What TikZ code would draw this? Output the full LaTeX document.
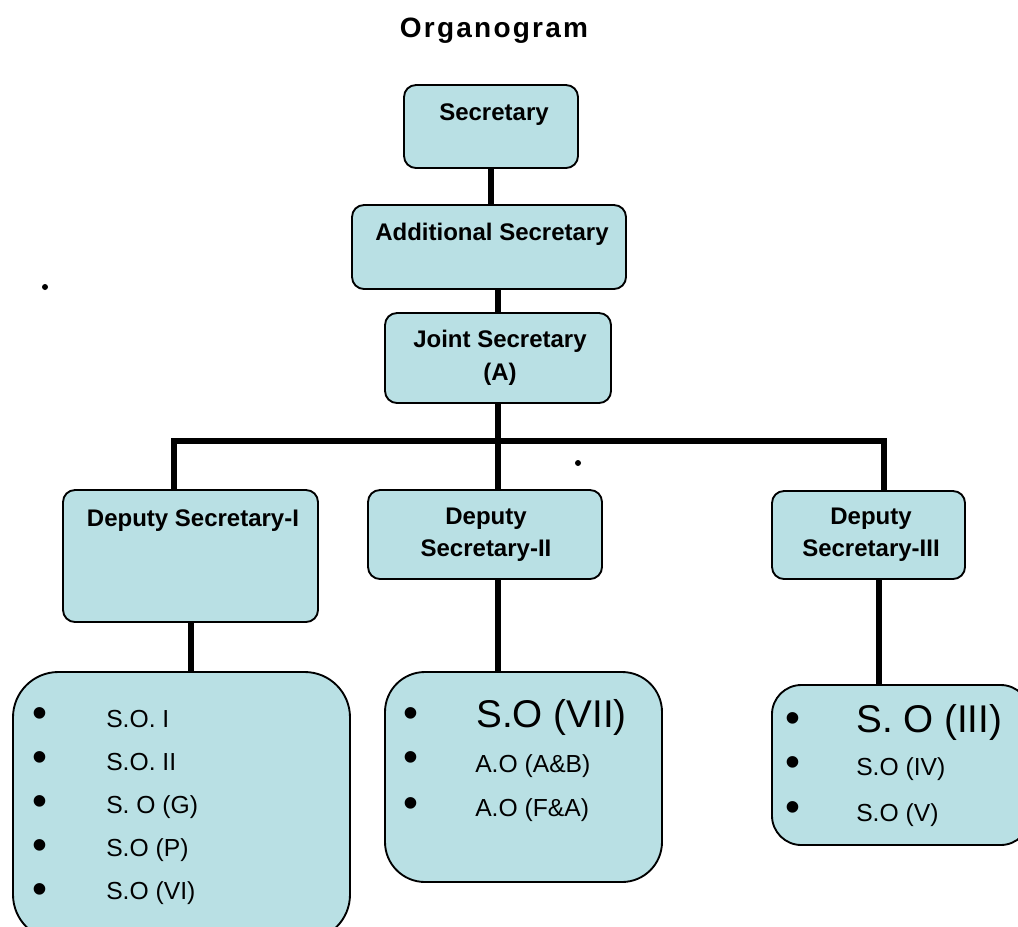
\documentclass[tikz,border=0pt]{standalone}
\usepackage{fontspec}
\setmainfont{Liberation Sans}
\newfontfamily\headfont[LetterSpace=8]{Liberation Sans}
\usetikzlibrary{backgrounds}
\definecolor{postfill}{RGB}{185,224,228}

\begin{document}
\begin{tikzpicture}[x=0.75pt,y=-0.75pt,
		post/.style={draw,line width=1.4pt,fill=postfill,rounded corners=9pt,inner sep=0pt},
		postname/.style={font=\bfseries\fontsize{18}{24.5}\selectfont,align=center,inner sep=0pt},
		item/.style={font=\fontsize{18.5}{20}\selectfont,anchor=base west,inner sep=0pt},
		bigitem/.style={font=\fontsize{29}{34}\selectfont,anchor=base west,inner sep=0pt},
		bul/.style={font=\fontsize{32}{34}\selectfont,inner sep=0pt},
		link/.style={line width=4.5pt}]
			\useasboundingbox (0,0) rectangle (1018,926);
			\node[font=\headfont\bfseries\fontsize{21}{24}\selectfont,anchor=base,inner sep=0pt] (head) at (494,37) {Organogram};
			% boxes
			\node[post,minimum width=130.5pt,minimum height=62.25pt] (sec) at (491,126.5) {};
			\node[post,minimum width=205.5pt,minimum height=63pt] (add) at (489,247) {};
			\node[post,minimum width=169.5pt,minimum height=67.5pt] (js) at (498,358) {};
			\node[post,minimum width=191.25pt,minimum height=99pt] (ds1) at (190.5,556) {};
			\node[post,minimum width=175.5pt,minimum height=66.75pt] (ds2) at (485,534.5) {};
			\node[post,minimum width=144.75pt,minimum height=66pt] (ds3) at (868.5,535) {};
			\node[post,rounded corners=34pt,minimum width=252.75pt,minimum height=201pt] (so1) at (181.5,806) {};
			\node[post,rounded corners=30pt,minimum width=207.75pt,minimum height=157.5pt] (so2) at (523.5,777) {};
			\node[post,rounded corners=22pt,minimum width=193.5pt,minimum height=120pt] (so3) at (901,765) {};
			% titles
			\node[postname,anchor=base] (secname) at (494,120) {Secretary};
			\node[postname,anchor=base] (addname) at (492,240) {Additional Secretary};
			\node[postname,font=\bfseries\fontsize{18}{24.75}\selectfont] (jsname) at (500,358) {Joint Secretary\\(A)};
			\node[postname,anchor=base] (ds1name) at (193,526) {Deputy Secretary-I};
			\node[postname,font=\bfseries\fontsize{18}{24}\selectfont] (ds2name) at (486,535) {Deputy\\Secretary-II};
			\node[postname,font=\bfseries\fontsize{18}{24}\selectfont] (ds3name) at (871,535) {Deputy\\Secretary-III};
			% S.O. lists
			\foreach \txt [count=\i] in {S.O. I,S.O. II,S. O (G),S.O (P),S.O (VI)} {
				\pgfmathsetmacro{\yb}{727+43*(\i-1)}
				\pgfmathsetmacro{\yd}{718+44*(\i-1)}
				\node[item] (soa\i) at (106,\yb) {\txt};
				\node[bul] (dota\i) at (40,\yd) {•};
			}
			\node[bigitem] (sob1) at (476,727) {S.O (VII)};
			\node[item] (sob2) at (475,772) {A.O (A\&B)};
			\node[item] (sob3) at (475,816) {A.O (F\&A)};
			\node[bul] (dotb1) at (411,718) {•};
			\node[bul] (dotb2) at (411,762) {•};
			\node[bul] (dotb3) at (411,808) {•};
			\node[bigitem] (soc1) at (856,732) {S. O (III)};
			\node[item] (soc2) at (856,775) {S.O (IV)};
			\node[item] (soc3) at (856,821) {S.O (V)};
			\node[bul] (dotc1) at (793,723) {•};
			\node[bul] (dotc2) at (793,767) {•};
			\node[bul] (dotc3) at (793,812) {•};
			\fill (45,287) circle (2.25pt);
			\fill (578,463) circle (2.25pt);
			% connectors
			\coordinate (barL) at (174,441);
			\coordinate (barR) at (884,441);
			\coordinate (tap3) at ([xshift=8pt]ds3.south);
			\begin{scope}[on background layer]
				\draw[link] (sec.south) -- (sec.south |- add.north);
				\draw[link] (js.north) -- (js.north |- add.south);
				\draw[link] (js.south) -- (js.south |- ds2.north);
				\draw[link] (barL |- ds1.north) -- (barL) -- (barR) -- (barR |- ds3.north);
				\draw[link] (ds1.south) -- (ds1.south |- so1.north);
				\draw[link] (js.south |- ds2.south) -- (js.south |- so2.north);
				\draw[link] (tap3) -- (tap3 |- so3.north);
			\end{scope}
		\end{tikzpicture}
\end{document}
